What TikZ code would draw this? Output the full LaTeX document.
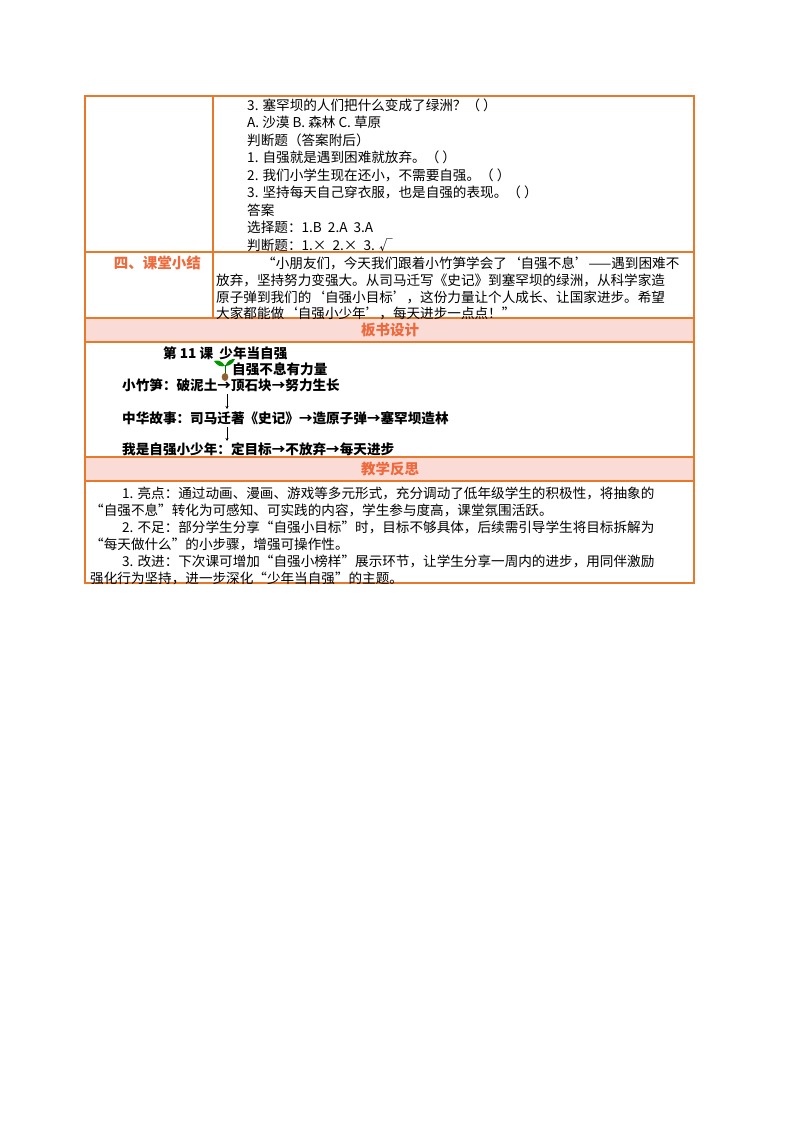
\documentclass[tikz,border=0pt]{standalone}
\usepackage{fontspec}
\setmainfont{Noto Sans CJK SC}
\usetikzlibrary{arrows.meta}
\definecolor{org}{HTML}{E8792B}
\definecolor{pinkf}{HTML}{FADBD6}
\definecolor{hdr}{HTML}{EE6A3C}
\tikzset{
 t/.style={anchor=west,inner sep=0pt,font=\fontsize{13.6}{15}\selectfont},
 tb/.style={t,font=\fontsize{13.6}{15}\selectfont\bfseries},
 hd/.style={inner sep=0pt,text=hdr,font=\fontsize{14.5}{16}\selectfont\bfseries},
 border/.style={draw=org,line width=1.4pt},
 arr/.style={-{Stealth[length=3pt,width=3pt]},line width=0.6pt}
}
\begin{document}
\begin{tikzpicture}[x=1pt,y=-1pt]
\useasboundingbox (0,0) rectangle (800,1132);
\fill[white] (0,0) rectangle (800,1132);
\fill[pinkf] (85,318) rectangle (694,342);
\fill[pinkf] (85,457) rectangle (694,481);
\draw[border] (85,96) rectangle (694,583);
\foreach \yy in {252,318,342,457,481} \draw[border] (85,\yy) -- (694,\yy);
\draw[border] (213,96) -- (213,318);
% row 1
\node[t] (q3) at (247,105) {3. 塞罕坝的人们把什么变成了绿洲？（ ）};
\node[t] (qa) at (247,122.5) {A. 沙漠 B. 森林 C. 草原};
\node[t] (pd) at (247,140) {判断题（答案附后）};
\node[t] (p1) at (247,157.5) {1. 自强就是遇到困难就放弃。（ ）};
\node[t] (p2) at (247,175) {2. 我们小学生现在还小，不需要自强。（ ）};
\node[t] (p3) at (247,192.5) {3. 坚持每天自己穿衣服，也是自强的表现。（ ）};
\node[t] (da) at (247,210) {答案};
\node[t] (d1) at (247,227.5) {选择题：1.B\ \ 2.A\ \ 3.A};
\node[t] (d2) at (247,245) {判断题：1.×\ \ 2.×\ \ 3. √};
% row 2
\node[hd,anchor=east,text=hdr] (h4) at (201,263) {四、课堂小结};
\node[t] (s1) at (262,263) {“小朋友们，今天我们跟着小竹笋学会了‘自强不息’——遇到困难不};
\node[t] (s2) at (216,280) {放弃，坚持努力变强大。从司马迁写《史记》到塞罕坝的绿洲，从科学家造};
\node[t] (s3) at (216,297) {原子弹到我们的‘自强小目标’，这份力量让个人成长、让国家进步。希望};
\node[t] (s4) at (216,313) {大家都能做‘自强小少年’，每天进步一点点！”};
% headers
\node[hd] (hb) at (390,330) {板书设计};
\node[hd] (hf) at (390,469) {教学反思};
% board
\node[tb] (b0) at (163,353) {第 11 课\ \ 少年当自强};
\draw[green!40!black,line width=1pt] (225,376) -- (225,365);
\fill[green!60!black] (225,366) .. controls (221,360) and (218,360) .. (214,361) .. controls (217,366) and (221,367) .. (225,366);
\fill[green!55!black] (225,366) .. controls (228,360) and (231,359) .. (235,359) .. controls (233,364) and (229,366) .. (225,366);
\fill[brown!75!black] (225,377) ellipse (3.3 and 4);
\node[tb] (b1) at (232,369) {自强不息有力量};
\node[tb] (b2) at (122,385) {小竹笋：破泥土→顶石块→努力生长};
\coordinate (a1) at (227,394);
\coordinate (a1e) at (227,409);
\draw[arr] (a1) -- (a1e);
\node[tb] (b3) at (122,418) {中华故事：司马迁著《史记》→造原子弹→塞罕坝造林};
\coordinate (a2) at (227,427);
\coordinate (a2e) at (227,441);
\draw[arr] (a2) -- (a2e);
\node[tb] (b4) at (122,449) {我是自强小少年：定目标→不放弃→每天进步};
% reflection
\node[t] (r1) at (122,493) {1. 亮点：通过动画、漫画、游戏等多元形式，充分调动了低年级学生的积极性，将抽象的};
\node[t] (r2) at (90,510) {“自强不息”转化为可感知、可实践的内容，学生参与度高，课堂氛围活跃。};
\node[t] (r3) at (122,527) {2. 不足：部分学生分享“自强小目标”时，目标不够具体，后续需引导学生将目标拆解为};
\node[t] (r4) at (90,544) {“每天做什么”的小步骤，增强可操作性。};
\node[t] (r5) at (122,561) {3. 改进：下次课可增加“自强小榜样”展示环节，让学生分享一周内的进步，用同伴激励};
\node[t] (r6) at (90,578) {强化行为坚持，进一步深化“少年当自强”的主题。};
\end{tikzpicture}
\end{document}
